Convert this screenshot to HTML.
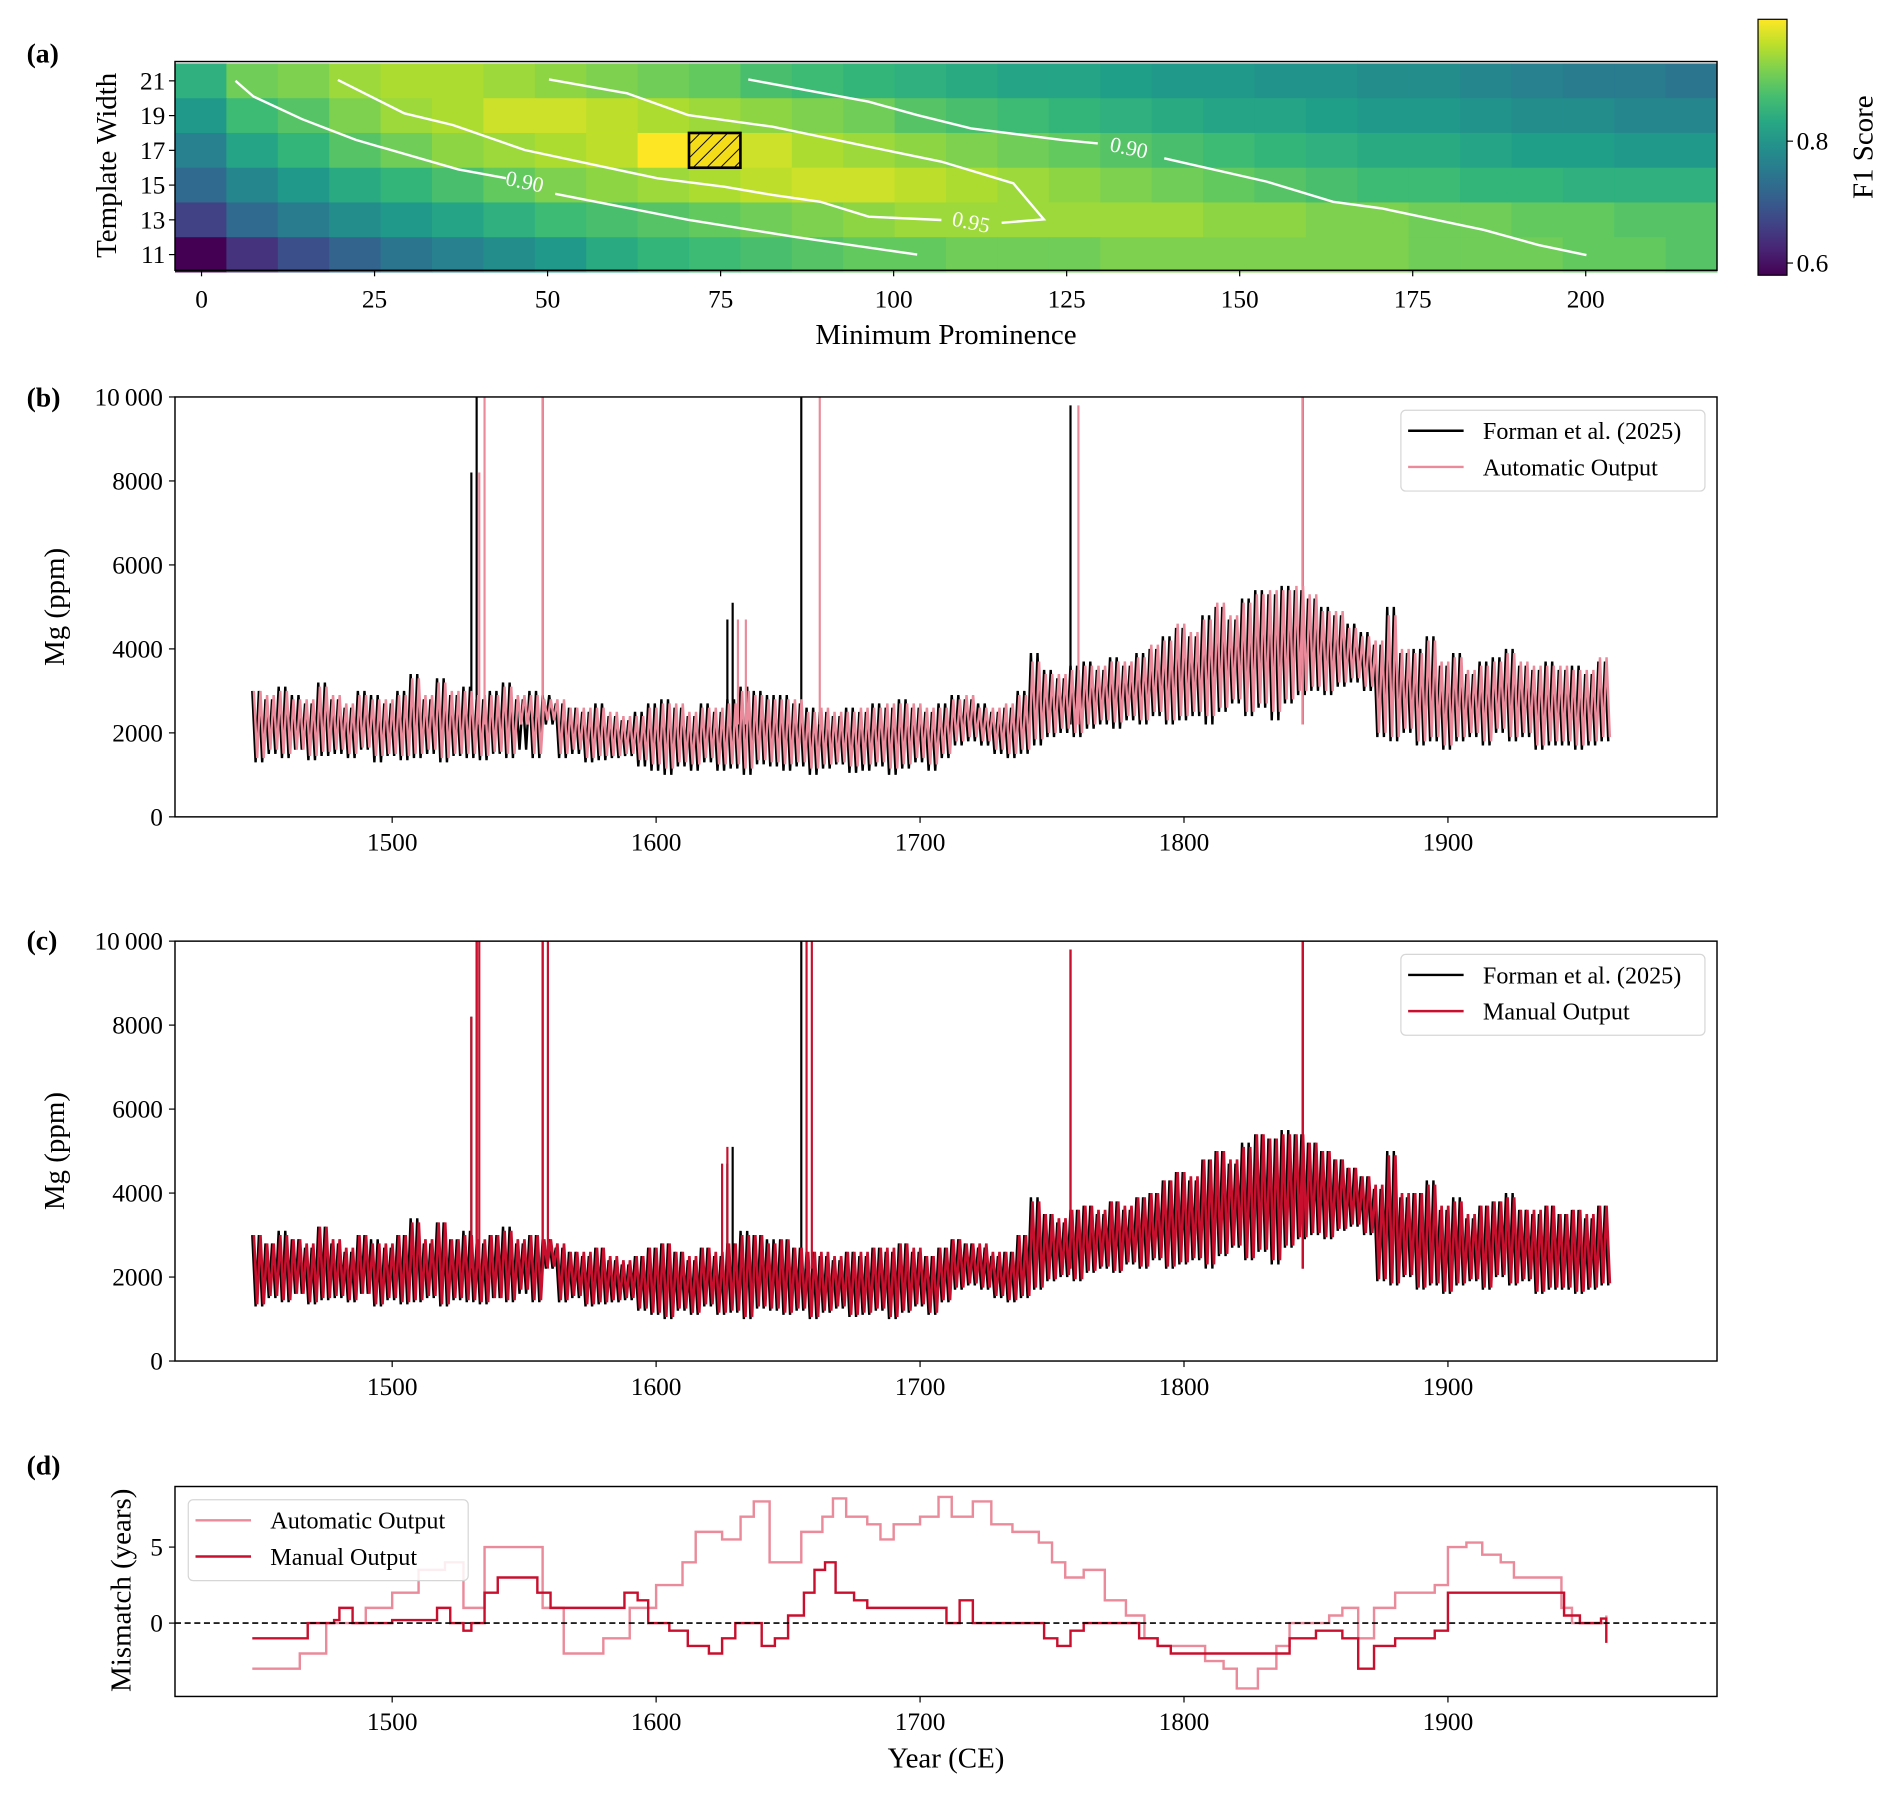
<!DOCTYPE html>
<html><head><meta charset="utf-8"><style>
html,body{margin:0;padding:0;background:#fff}
svg{display:block;font-family:"Liberation Serif",serif}
</style></head><body>
<svg id="fig" width="1892" height="1796" viewBox="0 0 1568 1488.5" xmlns="http://www.w3.org/2000/svg">
<defs>
<clipPath id="clipB"><rect x="145" y="329" width="1278" height="348"/></clipPath>
<clipPath id="clipC"><rect x="145" y="780" width="1278" height="348"/></clipPath>
<clipPath id="clipD"><rect x="145" y="1232" width="1278" height="174"/></clipPath>
<linearGradient id="cbar" x1="0" y1="1" x2="0" y2="0"></linearGradient>
<pattern id="hatch" patternUnits="userSpaceOnUse" width="8" height="8" patternTransform="rotate(45)"><line x1="0" y1="0" x2="0" y2="8" stroke="#000" stroke-width="1.6"/></pattern>
</defs>
<g id="root"></g>
</svg>
<script>
// ---------- Panel (a) data ----------
const promCenters=[0,7.5,15,22.5,30,37.5,45,52.5,60,67.5,75,82.5,90,97.5,105,112.5,120,127.5,135,142.5,150,157.5,165,172.5,180,187.5,195,202.5,210,217.5];
const widths=[21,19,17,15,13,11];
const f1Row21=[0.84,0.90,0.91,0.93,0.94,0.94,0.93,0.92,0.91,0.90,0.89,0.87,0.86,0.85,0.84,0.83,0.82,0.82,0.81,0.80,0.80,0.79,0.79,0.78,0.78,0.77,0.76,0.75,0.75,0.74];
const f1Row19=[0.80,0.86,0.88,0.91,0.93,0.94,0.96,0.96,0.95,0.94,0.93,0.92,0.91,0.90,0.88,0.87,0.86,0.85,0.84,0.83,0.82,0.82,0.81,0.80,0.80,0.79,0.78,0.78,0.77,0.77];
const f1Row17=[0.76,0.82,0.85,0.88,0.90,0.92,0.93,0.94,0.95,0.99,0.97,0.96,0.94,0.93,0.92,0.91,0.90,0.89,0.88,0.87,0.86,0.85,0.84,0.83,0.83,0.82,0.81,0.81,0.80,0.80];
const f1Row15=[0.72,0.77,0.80,0.83,0.85,0.87,0.89,0.91,0.92,0.93,0.94,0.95,0.96,0.96,0.95,0.94,0.93,0.92,0.91,0.90,0.89,0.88,0.87,0.86,0.86,0.85,0.85,0.84,0.84,0.84];
const f1Row13=[0.66,0.72,0.75,0.78,0.80,0.82,0.84,0.86,0.87,0.88,0.89,0.90,0.91,0.92,0.93,0.93,0.93,0.93,0.93,0.93,0.92,0.92,0.91,0.91,0.90,0.90,0.89,0.89,0.88,0.88];
const f1Row11=[0.58,0.64,0.68,0.71,0.74,0.76,0.78,0.80,0.83,0.85,0.86,0.87,0.88,0.89,0.89,0.90,0.90,0.90,0.91,0.91,0.91,0.91,0.91,0.91,0.90,0.90,0.90,0.89,0.89,0.88];
const xTicksA=[0,25,50,75,100,125,150,175,200];
const cbTicks=[0.6,0.8];
const contourLeftX=[4.9,7.5,14.5,22.3,37.1,44.0];
const contourLeftY=[21,20.1,18.8,17.6,15.9,15.4];
const contourLeft2X=[51.1,70.3,86,103.4];
const contourLeft2Y=[14.5,13.0,12.0,11.0];
const contourMidX=[106.9,96.4,89.4,82.5,75.5,65.9,46.7,36.3,29.3,19.7];
const contourMidY=[12.99,13.18,14.04,14.43,14.91,15.39,17.02,18.46,19.13,21.05];
const contourMid2X=[115.6,121.7,117.3,106.9,96.4,82.5,75.5,70.3,61.5,50.2];
const contourMid2Y=[12.83,13.03,15.10,16.35,17.21,18.36,18.74,19.03,20.28,21.08];
const contourRightX=[79,96.4,103.4,111.2,124.3,129.5];
const contourRightY=[21.08,19.8,19.03,18.26,17.6,17.4];
const contourRight2X=[139.1,153.9,163.5,170.5,185.3,193.2,200.1];
const contourRight2Y=[16.54,15.2,14.04,13.66,12.42,11.55,10.97];
const contourLabelText=["0.90","0.95","0.90"];
const contourLabelX=[46.7,111.2,134.0];
const contourLabelY=[15.2,12.87,17.15];

// ---------- Panels (b)(c) data: 5-year bins from 1447 ----------
const binStart=1447, binStep=5;
const formanHi=[3000,2800,3100,2900,2700,3200,2800,2600,3000,2900, 2700,3000,3400,2800,3300,2900,3100,2800,3000,3200, 2800,3000,2900,2700,2600,2500,2700,2400,2300,2500, 2700,2800,2600,2400,2700,2500,2800,3100,3000,2900, 2900,2700,2600,2500,2400,2600,2500,2700,2600,2800, 2600,2500,2700,2900,2800,2700,2500,2600,3000,3900, 3500,3300,3600,3700,3500,3800,3600,3900,4000,4300, 4500,4300,4800,5000,4700,5200,5400,5300,5500,5400, 5200,5000,4800,4600,4400,4100,5000,3900,4000,4300, 3600,3900,3400,3700,3800,4000,3600,3500,3700,3500, 3600,3400,3700];
const formanLo=[1300,1500,1400,1600,1350,1450,1500,1400,1600,1300, 1450,1350,1400,1500,1300,1450,1400,1350,1500,1400, 1600,1400,2200,1400,1500,1300,1350,1400,1450,1200, 1100,1000,1200,1100,1300,1100,1150,1000,1250,1200, 1100,1200,1000,1150,1250,1050,1100,1200,1000,1150, 1300,1100,1400,1700,1800,1700,1500,1400,1500,1700, 1900,2000,1900,2100,2200,2100,2300,2200,2400,2200, 2300,2400,2200,2500,2700,2400,2600,2300,2700,2900, 3000,2900,3100,3200,3000,1900,1800,2000,1700,1800, 1600,1800,1900,1700,2000,1800,1900,1600,1700,1700, 1600,1700,1800];
const autoHi=[3000,2900,3000,2800,2800,3100,2900,2700,2900,2800, 2800,2900,3300,2900,3200,3000,3000,2900,2900,3100, 2900,2900,2800,2800,2600,2600,2600,2500,2400,2400, 2600,2700,2700,2500,2600,2600,2700,3000,2900,2800, 2800,2800,2500,2600,2500,2500,2600,2600,2700,2700, 2700,2600,2600,2800,2900,2600,2600,2700,2900,3700, 3400,3400,3500,3600,3600,3700,3700,3800,4100,4200, 4600,4400,4700,5100,4800,5100,5300,5400,5400,5500, 5300,4900,4900,4500,4300,4200,4800,4000,3900,4200, 3700,3800,3500,3600,3700,3900,3700,3600,3600,3600, 3500,3500,3800];
const autoLo=[1400,1600,1500,1600,1450,1550,1600,1500,1650,1450, 1500,1450,1500,1600,1400,1500,1500,1450,1550,1500, 2200,1500,2300,1500,1600,1400,1450,1450,1500,1350, 1250,1150,1300,1250,1400,1250,1250,1150,1350,1300, 1250,1300,1150,1250,1300,1200,1250,1300,1150,1250, 1400,1250,1500,1800,1900,1800,1600,1500,1600,1850, 2000,2100,2000,2200,2300,2250,2400,2300,2500,2300, 2400,2500,2400,2600,2800,2500,2700,2500,2800,3000, 3100,3000,3200,3300,3100,2000,1900,2100,1800,1900, 1700,1900,2000,1800,2100,1900,2000,1700,1800,1800, 1700,1800,1900];
const manualHi=[3000,2800,3000,2900,2800,3200,2900,2700,3000,2800, 2800,3000,3300,2900,3300,2900,3000,2900,3000,3100, 2900,3000,2900,2800,2600,2600,2700,2500,2400,2500, 2700,2800,2600,2500,2700,2600,2800,3000,3000,2800, 2900,2700,2600,2600,2500,2600,2600,2700,2700,2800, 2700,2500,2700,2900,2800,2800,2600,2600,3000,3800, 3500,3400,3600,3700,3600,3800,3700,3900,4000,4300, 4500,4400,4800,5000,4800,5100,5400,5300,5400,5400, 5200,5000,4800,4600,4400,4200,4900,4000,4000,4200, 3700,3800,3500,3700,3800,3900,3600,3600,3700,3500, 3600,3500,3700];
const manualLo=[1350,1550,1450,1600,1400,1500,1550,1450,1600,1350, 1500,1400,1450,1550,1350,1500,1450,1400,1500,1450, 1700,1450,2250,1450,1550,1350,1400,1450,1500,1250, 1150,1050,1250,1150,1350,1150,1200,1050,1300,1250, 1150,1250,1050,1200,1300,1100,1150,1250,1050,1200, 1350,1150,1450,1750,1850,1750,1550,1450,1550,1750, 1950,2050,1950,2150,2250,2150,2350,2250,2450,2250, 2350,2450,2300,2550,2750,2450,2650,2400,2750,2950, 3050,2950,3150,3250,3050,1950,1850,2050,1750,1850, 1650,1850,1950,1750,2050,1850,1950,1650,1750,1750, 1650,1750,1850];
const formanSpikeYears=[1530,1532,1557,1627,1629,1655,1757,1845];
const formanSpikeVals=[8200,10500,10500,4700,5100,10500,9800,10500];
const autoSpikeYears=[1533,1535,1557,1631,1634,1662,1760,1845];
const autoSpikeVals=[8200,10500,10500,4700,4700,10500,9800,10500];
const manualSpikeYears=[1530,1532,1533,1557,1559,1625,1627,1657,1659,1757,1845];
const manualSpikeVals=[8200,10500,10500,10500,10500,4700,5100,10500,10500,9800,10500];
const yearTicks=[1500,1600,1700,1800,1900];
const mgTicks=[0,2000,4000,6000,8000,10000];
const mgTickLabels=["0","2000","4000","6000","8000","10\u2009000"];

// ---------- Panel (d) data ----------
const autoMisYears=[1447,1460,1465,1475,1490,1500,1510,1520,1527,1535,1552,1557,1565,1572,1580,1590,1600,1610,1615,1625,1632,1637,1643,1648,1655,1663,1667,1672,1680,1685,1690,1700,1707,1712,1720,1727,1735,1745,1750,1755,1762,1770,1778,1785,1790,1800,1808,1815,1820,1828,1835,1840,1848,1855,1860,1866,1872,1880,1890,1895,1900,1907,1913,1920,1925,1935,1940,1943,1947,1955,1960];
const autoMisVals=[-3,-3,-2,0,1,2,3.5,4,1,5,5,1,-2,-2,-1,1,2.5,4,6,5.5,7,8,4,4,6,7,8.2,7,6.5,5.5,6.5,7,8.3,7,8,6.5,6,5.3,4,3,3.5,1.5,0.5,-1,-1.5,-1.5,-2.5,-3,-4.3,-3,-1.5,0,0,0.5,1,-1,1,2,2,2.5,5,5.3,4.5,4,3,3,3,1,0,0,0.5];
const manMisYears=[1447,1465,1468,1478,1480,1485,1500,1510,1517,1522,1527,1530,1535,1540,1550,1555,1560,1572,1583,1588,1593,1597,1605,1612,1620,1625,1630,1635,1640,1645,1650,1656,1660,1664,1668,1675,1680,1695,1705,1710,1715,1720,1730,1740,1747,1752,1757,1762,1775,1783,1790,1795,1810,1820,1835,1840,1850,1860,1866,1872,1880,1895,1900,1920,1940,1944,1950,1958,1960];
const manMisVals=[-1,-1,0,0.2,1,0,0.2,0.2,1,0,-0.5,0,2,3,3,2,1,1,1,2,1.5,0,-0.5,-1.5,-2,-1,0,0,-1.5,-1,0.5,2,3.5,4,2,1.5,1,1,1,0,1.5,0,0,0,-1,-1.5,-0.5,0,0,-1,-1.5,-2,-2,-2,-2,-1,-0.5,-1,-3,-1.5,-1,-0.5,2,2,2,0.5,0,0.3,-1.3];
const misTicks=[0,5];

// ---------- helpers ----------
const NS="http://www.w3.org/2000/svg";
const root=document.getElementById('root');
function mk(tag,attrs,parent){const e=document.createElementNS(NS,tag);for(const k in attrs)e.setAttribute(k,attrs[k]);(parent||root).appendChild(e);return e;}
function txt(s,attrs,parent){const e=mk('text',attrs,parent);e.textContent=s;return e;}
const VIR=[[68,1,84],[72,40,120],[62,74,137],[49,104,142],[38,130,142],[31,158,137],[53,183,121],[109,205,89],[180,222,44],[253,231,37]];
function viridis(t){t=Math.max(0,Math.min(1,t));const p=t*(VIR.length-1);const i=Math.min(VIR.length-2,Math.floor(p));const f=p-i;const a=VIR[i],b=VIR[i+1];return `rgb(${Math.round(a[0]+(b[0]-a[0])*f)},${Math.round(a[1]+(b[1]-a[1])*f)},${Math.round(a[2]+(b[2]-a[2])*f)})`;}
const VMIN=0.58,VMAX=0.99;

// ---------- Panel (a) ----------
const hx=v=>167+v*5.736, hy=w=>67+(21-w)*14.4;
const cellW=1278/promCenters.length;
const cx=c=>145+(c/7.5+0.5)*cellW;
const gA=mk('g',{});


const rows=[f1Row21,f1Row19,f1Row17,f1Row15,f1Row13,f1Row11];
rows.forEach((row,ri)=>{row.forEach((v,ci)=>{
  const x0=cx(promCenters[ci])-cellW/2,y0=hy(widths[ri]+1),y1=hy(widths[ri]-1);
  const r=mk('rect',{x:x0,y:y0,width:cellW+0.4,height:y1-y0+0.4,fill:viridis((v-VMIN)/(VMAX-VMIN))},gA);
  
  
});});
function poly(xs,ys,name){const pts=xs.map((x,i)=>hx(x)+','+hy(ys[i])).join(' ');const p=mk('polyline',{points:pts,fill:'none',stroke:'#fff','stroke-width':2},gA);}
poly(contourLeftX,contourLeftY,'contour-090-left');
poly(contourLeft2X,contourLeft2Y,'contour-090-left');
poly(contourMidX,contourMidY,'contour-095');
poly(contourMid2X,contourMid2Y,'contour-095');
poly(contourRightX,contourRightY,'contour-090-right');
poly(contourRight2X,contourRight2Y,'contour-090-right');
contourLabelText.forEach((s,i)=>{const t=txt(s,{x:hx(contourLabelX[i]),y:hy(contourLabelY[i])+6,'text-anchor':'middle','font-size':18,fill:'#fff',transform:`rotate(12 ${hx(contourLabelX[i])} ${hy(contourLabelY[i])})`},gA);});
{const x0=cx(75)-cellW/2,y0=hy(18);const w=cellW,h=hy(16)-y0;
 const b=mk('rect',{x:x0,y:y0,width:w,height:h,fill:'#f5dc18'},gA);
 
 
 mk('rect',{x:x0,y:y0,width:w,height:h,fill:'url(#hatch)',stroke:'#000','stroke-width':2.2},gA);}
mk('rect',{x:145,y:51,width:1278,height:173,fill:'none',stroke:'#000','stroke-width':1.2},gA);
widths.forEach(w=>{mk('line',{x1:140,x2:145,y1:hy(w),y2:hy(w),stroke:'#000'},gA);const t=txt(String(w),{x:137,y:hy(w)+7,'text-anchor':'end','font-size':21},gA);});
xTicksA.forEach(v=>{mk('line',{x1:hx(v),x2:hx(v),y1:224,y2:229,stroke:'#000'},gA);const t=txt(String(v),{x:hx(v),y:255,'text-anchor':'middle','font-size':21},gA);});
{let t=txt('Minimum Prominence',{x:784,y:285,'text-anchor':'middle','font-size':24},gA);
 t=txt('Template Width',{x:96,y:137,'text-anchor':'middle','font-size':24,transform:'rotate(-90 96 137)'},gA);}
{const g=document.getElementById('cbar');for(let i=0;i<=10;i++){mk('stop',{offset:i/10,'stop-color':viridis(i/10)},g);}
 const cbY=v=>218-(v-0.6)*505;
 const cb=mk('rect',{x:1457,y:cbY(1.0),width:24,height:cbY(VMIN)-cbY(1.0),fill:'url(#cbar)',stroke:'#000','stroke-width':1});
 
 cbTicks.forEach(v=>{mk('line',{x1:1481,x2:1486,y1:cbY(v),y2:cbY(v),stroke:'#000'});const t=txt(String(v),{x:1489,y:cbY(v)+7,'font-size':21});});
 const t=txt('F1 Score',{x:1552,y:122,'text-anchor':'middle','font-size':24,transform:'rotate(-90 1552 122)'});}

// ---------- shared line panels ----------
const X=yr=>325+(yr-1500)*2.1875;
function zig(hi,lo,phase,Y){let d='';hi.forEach((h,i)=>{const t=binStart+i*binStep+phase;d+=(i?'L':'M')+X(t)+','+Y(h)+'L'+X(t+1.25)+','+Y(lo[i])+'L'+X(t+2.5)+','+Y(h)+'L'+X(t+3.75)+','+Y(lo[i]);});return d;}
function spikes(ys,vs,Y,color,g,name){ys.forEach((yr,i)=>{const l=mk('line',{x1:X(yr),x2:X(yr),y1:Y(2200),y2:Y(vs[i]),stroke:color,'stroke-width':1.8},g);});}
function axesFrame(top,bot,Y,ticks,labels,g){
  mk('rect',{x:145,y:top,width:1278,height:bot-top,fill:'none',stroke:'#000','stroke-width':1.2},g);
  ticks.forEach((v,i)=>{mk('line',{x1:140,x2:145,y1:Y(v),y2:Y(v),stroke:'#000'},g);const t=txt(labels[i],{x:135,y:Y(v)+7,'text-anchor':'end','font-size':21},g);});
  yearTicks.forEach(v=>{mk('line',{x1:X(v),x2:X(v),y1:bot,y2:bot+5,stroke:'#000'},g);const t=txt(String(v),{x:X(v),y:bot+28,'text-anchor':'middle','font-size':21},g);});
}
function legend(x,y,w,items,g,name){
  const lg=mk('g',{},g);
  mk('rect',{x:x,y:y,width:w,height:67,rx:4,fill:'#fff','fill-opacity':0.85,stroke:'#d6d6d6'},lg);
  items.forEach((it,i)=>{const cy=y+17+i*30;mk('line',{x1:x+6,x2:x+52,y1:cy,y2:cy,stroke:it[1],'stroke-width':2},lg);const t=txt(it[0],{x:x+68,y:cy+7,'font-size':20},lg);});
}
function label(s,x,y){const t=txt(s,{x:x,y:y,'font-size':23,'font-weight':'bold'});}
label('(a)',22,52);label('(b)',22,337);label('(c)',22,787);label('(d)',22,1222);

// ---------- Panel (b) ----------
{const Y=v=>677-v*0.0348;const g=mk('g',{});
 const c=mk('g',{'clip-path':'url(#clipB)'},g);
 let p=mk('path',{d:zig(formanHi,formanLo,0,Y),fill:'none',stroke:'#000','stroke-width':2,'stroke-linejoin':'bevel'},c);
 spikes(formanSpikeYears,formanSpikeVals,Y,'#000',c,'forman-spike');
 p=mk('path',{d:zig(autoHi,autoLo,0.6,Y),fill:'none',stroke:'#ea8a9a','stroke-width':2,'stroke-linejoin':'bevel'},c);
 spikes(autoSpikeYears,autoSpikeVals,Y,'#ea8a9a',c,'automatic-spike');
 axesFrame(329,677,Y,mgTicks,mgTickLabels,g);
 const t=txt('Mg (ppm)',{x:53,y:503,'text-anchor':'middle','font-size':24,transform:'rotate(-90 53 503)'},g);
 legend(1161,340,252,[['Forman et al. (2025)','#000'],['Automatic Output','#ea8a9a']],g,'legend-b');}

// ---------- Panel (c) ----------
{const Y=v=>1128-v*0.0348;const g=mk('g',{});
 const c=mk('g',{'clip-path':'url(#clipC)'},g);
 let p=mk('path',{d:zig(formanHi,formanLo,0,Y),fill:'none',stroke:'#000','stroke-width':2,'stroke-linejoin':'bevel'},c);
 spikes(formanSpikeYears,formanSpikeVals,Y,'#000',c,'forman-spike');
 p=mk('path',{d:zig(manualHi,manualLo,0.6,Y),fill:'none',stroke:'#c8102e','stroke-width':2.2,'stroke-linejoin':'bevel'},c);
 spikes(manualSpikeYears,manualSpikeVals,Y,'#c8102e',c,'manual-spike');
 axesFrame(780,1128,Y,mgTicks,mgTickLabels,g);
 const t=txt('Mg (ppm)',{x:53,y:954,'text-anchor':'middle','font-size':24,transform:'rotate(-90 53 954)'},g);
 legend(1161,791,252,[['Forman et al. (2025)','#000'],['Manual Output','#c8102e']],g,'legend-c');}

// ---------- Panel (d) ----------
{const Y=v=>1345.2-v*12.6;const g=mk('g',{});
 const c=mk('g',{'clip-path':'url(#clipD)'},g);
 function step(ys,vs){let d='';ys.forEach((yr,i)=>{d+=(i?'L'+X(yr)+','+Y(vs[i-1]):'M'+X(yr)+','+Y(vs[0]))+'L'+X(yr)+','+Y(vs[i]);});return d;}
 let p=mk('path',{d:step(autoMisYears,autoMisVals),fill:'none',stroke:'#ea8a9a','stroke-width':2},c);
 p=mk('path',{d:step(manMisYears,manMisVals),fill:'none',stroke:'#c8102e','stroke-width':2},c);
 const z=mk('line',{x1:145,x2:1423,y1:Y(0),y2:Y(0),stroke:'#000','stroke-width':1.3,'stroke-dasharray':'5,3'},g);
 axesFrame(1232,1406,Y,misTicks,misTicks.map(String),g);
 let t=txt('Mismatch (years)',{x:108,y:1318,'text-anchor':'middle','font-size':24,transform:'rotate(-90 108 1318)'},g);
 t=txt('Year (CE)',{x:784,y:1465,'text-anchor':'middle','font-size':24},g);
 legend(156,1243,232,[['Automatic Output','#ea8a9a'],['Manual Output','#c8102e']],g,'legend-d');}
</script>
</body></html>
